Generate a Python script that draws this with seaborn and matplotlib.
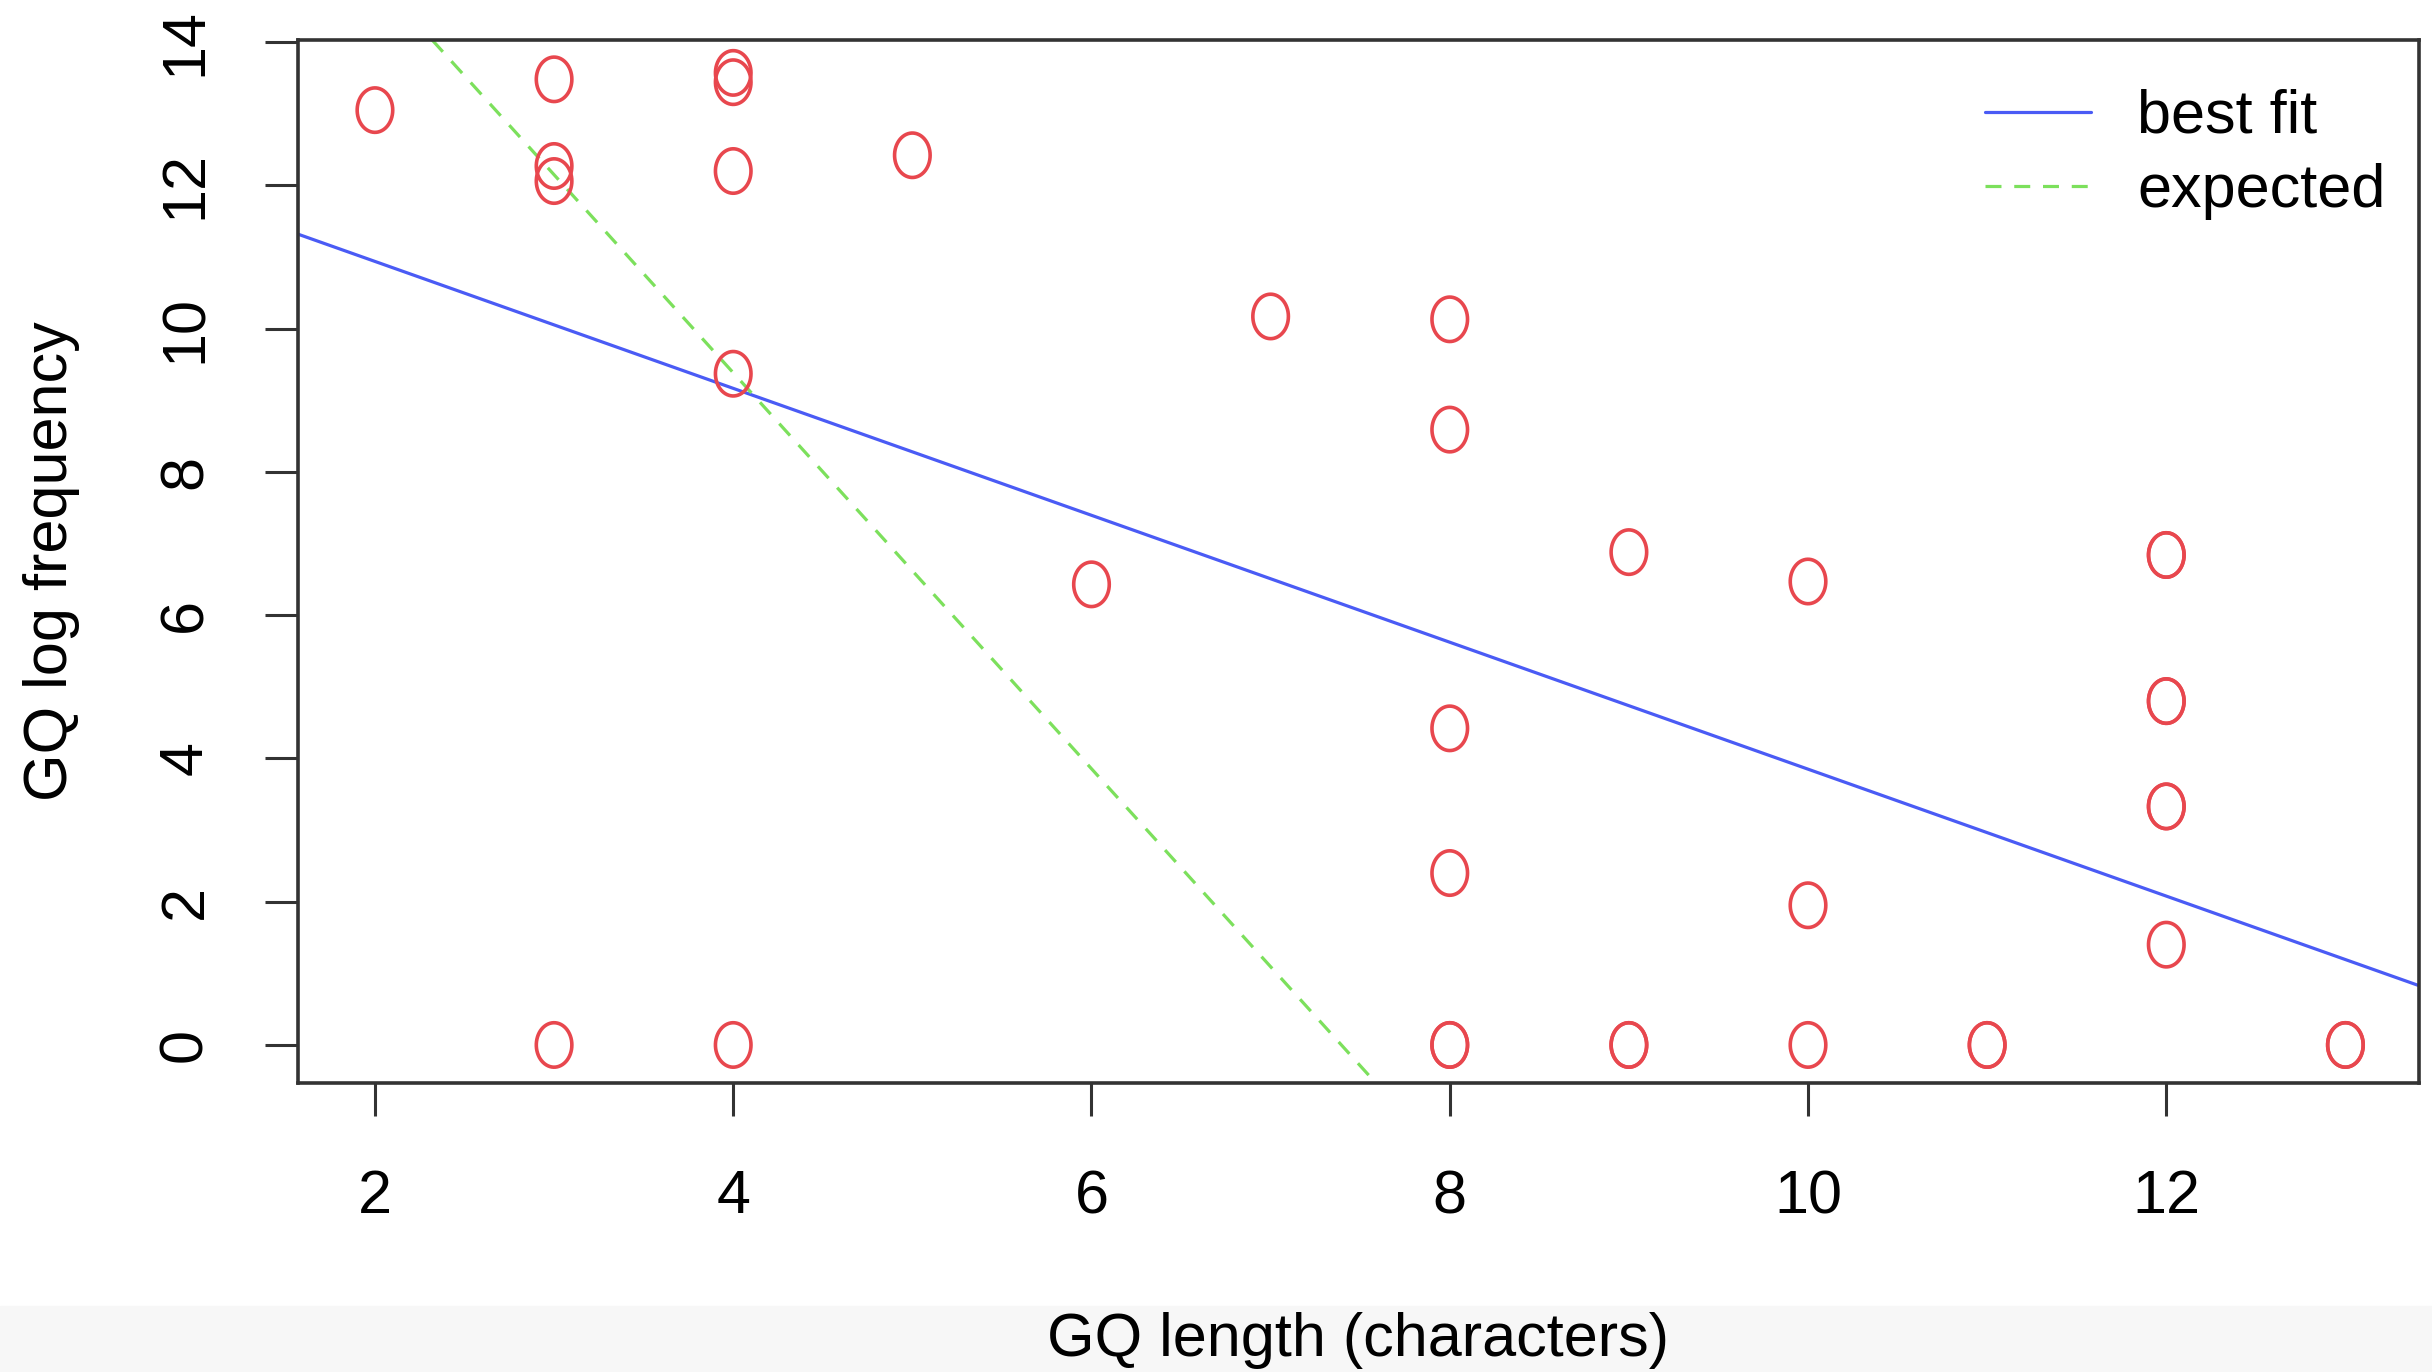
import numpy as np
import pandas as pd
import seaborn as sns
import matplotlib
matplotlib.use("Agg")
from matplotlib import pyplot as plt
from matplotlib.path import Path
from matplotlib.patches import Rectangle

# === Data ===
gq_length = [2, 3, 3, 3, 3, 4, 4, 4, 4, 4, 5, 6, 7,
             8, 8, 8, 8, 8, 8, 9, 9, 9, 10, 10, 10, 11, 11,
             12, 12, 12, 12, 12, 12, 12, 13, 13]
gq_logfreq = [13.05, 13.48, 12.27, 12.06, 0.0, 13.57, 13.44, 12.2, 9.37, 0.0, 12.42, 6.43, 10.17,
              10.13, 8.59, 4.42, 2.4, 0.0, 0.0, 6.88, 0.0, 0.0, 6.47, 1.95, 0.0, 0.0, 0.0,
              6.84, 6.84, 4.8, 4.8, 3.33, 3.33, 1.4, 0.0, 0.0]

fit_intercept, fit_slope = 12.71, -0.886
expected_intercept, expected_slope = 20.44, -2.764

x_ticks = [2, 4, 6, 8, 10, 12]
y_ticks = [0, 2, 4, 6, 8, 10, 12, 14]

df = pd.DataFrame({"length": gq_length, "logfreq": gq_logfreq})

# === Style ===
sns.set_style("white")
plt.rcParams["font.family"] = ["Liberation Sans", "DejaVu Sans"]
plt.rcParams["text.color"] = "black"
plt.rcParams["axes.labelcolor"] = "black"
plt.rcParams["xtick.labelcolor"] = "black"
plt.rcParams["ytick.labelcolor"] = "black"
fs = 44

red = "#E8474E"
blue = "#4A5BF5"
green = "#7CE05C"

# slightly tall open circle, like R's pch=1 in the stretched screenshot
t = np.linspace(0, 2 * np.pi, 60)
ellipse = Path(np.column_stack([0.4 * np.cos(t), 0.5 * np.sin(t)]), closed=True)

fig = plt.figure(figsize=(24.32, 13.72), dpi=100)
fig.patches.append(Rectangle((0, 0), 1, 66 / 1372, transform=fig.transFigure,
                             color="#f7f7f7", zorder=-1))
ax = fig.add_axes([0.1225, 0.2107, 0.8721, 0.7602])

sns.scatterplot(data=df, x="length", y="logfreq", ax=ax, marker=ellipse, s=32 ** 2,
                facecolor="none", edgecolor=red, linewidth=2.6, legend=False, zorder=3)

ax.axline((0, fit_intercept), slope=fit_slope, color=blue, lw=2.3, label="best fit")
ax.axline((0, expected_intercept), slope=expected_slope, color=green, lw=2.3,
          dashes=(5, 4), label="expected")

ax.set_xlim(1.57, 13.41)
ax.set_ylim(-0.53, 14.03)
ax.set_xticks(x_ticks)
ax.set_yticks(y_ticks)
ax.tick_params(axis="both", length=24, width=2.2, color="#333333", labelsize=fs,
               direction="out", left=True, bottom=True)
ax.tick_params(axis="x", pad=38)
ax.tick_params(axis="y", pad=36)
for lab in ax.get_yticklabels():
    lab.set_rotation(90)
    lab.set_va("center")
    lab.set_ha("right")
for sp in ax.spines.values():
    sp.set_visible(True)
    sp.set_color("#333333")
    sp.set_linewidth(2.6)

ax.set_xlabel("GQ length (characters)", fontsize=fs, labelpad=62)
ax.set_ylabel("GQ log frequency", fontsize=fs, labelpad=56)

ax.legend(loc="upper right", bbox_to_anchor=(0.991, 0.953), bbox_transform=fig.transFigure,
          frameon=False, fontsize=fs, handlelength=1.75, handletextpad=0.75,
          labelspacing=0.28, borderaxespad=0)

fig.savefig("out.png", dpi=100)
